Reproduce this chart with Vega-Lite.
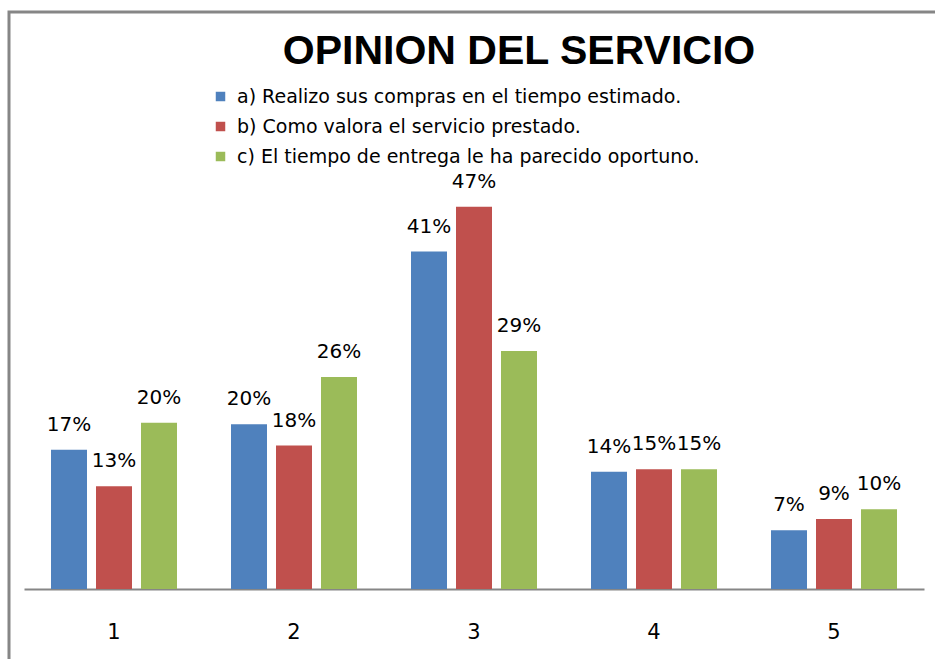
{
  "$schema": "https://vega.github.io/schema/vega-lite/v6.json",
  "width": 936,
  "height": 657,
  "autosize": {"type": "none"},
  "padding": {"left": 9, "top": 12, "right": -10, "bottom": -10},
  "background": "white",
  "config": {"view": {"stroke": "#868686", "strokeWidth": 3}},
  "title": {
    "text": "OPINION DEL SERVICIO",
    "font": "Liberation Sans",
    "fontSize": 41,
    "fontWeight": "bold",
    "color": "black",
    "anchor": "middle",
    "frame": "group",
    "dx": 42,
    "offset": -93,
    "baseline": "alphabetic"
  },
  "data": {
    "values": [
      {"cat": "1", "serie": "a) Realizo sus compras en el tiempo estimado.", "value": 0.171},
      {"cat": "1", "serie": "b) Como valora el servicio prestado.", "value": 0.126},
      {"cat": "1", "serie": "c) El tiempo de entrega le ha parecido oportuno.", "value": 0.204},
      {"cat": "2", "serie": "a) Realizo sus compras en el tiempo estimado.", "value": 0.202},
      {"cat": "2", "serie": "b) Como valora el servicio prestado.", "value": 0.176},
      {"cat": "2", "serie": "c) El tiempo de entrega le ha parecido oportuno.", "value": 0.26},
      {"cat": "3", "serie": "a) Realizo sus compras en el tiempo estimado.", "value": 0.414},
      {"cat": "3", "serie": "b) Como valora el servicio prestado.", "value": 0.469},
      {"cat": "3", "serie": "c) El tiempo de entrega le ha parecido oportuno.", "value": 0.292},
      {"cat": "4", "serie": "a) Realizo sus compras en el tiempo estimado.", "value": 0.144},
      {"cat": "4", "serie": "b) Como valora el servicio prestado.", "value": 0.147},
      {"cat": "4", "serie": "c) El tiempo de entrega le ha parecido oportuno.", "value": 0.147},
      {"cat": "5", "serie": "a) Realizo sus compras en el tiempo estimado.", "value": 0.072},
      {"cat": "5", "serie": "b) Como valora el servicio prestado.", "value": 0.086},
      {"cat": "5", "serie": "c) El tiempo de entrega le ha parecido oportuno.", "value": 0.098}
    ]
  },
  "encoding": {
    "x": {
      "field": "cat",
      "type": "nominal",
      "scale": {"range": [15, 915], "paddingInner": 0.25, "paddingOuter": 0.125},
      "axis": {
        "title": null,
        "labelAngle": 0,
        "ticks": false,
        "grid": false,
        "domainColor": "#868686",
        "domainWidth": 2,
        "labelFont": "DejaVu Sans",
        "labelFontSize": 21,
        "labelColor": "black",
        "labelPadding": 32,
        "offset": -80
      }
    },
    "xOffset": {
      "field": "serie",
      "type": "nominal",
      "scale": {"paddingInner": 0.2, "paddingOuter": 0.1}
    },
    "y": {
      "field": "value",
      "type": "quantitative",
      "scale": {"domain": [0, 0.5], "range": [577, 169.5], "nice": false, "zero": true},
      "axis": null
    }
  },
  "layer": [
    {
      "mark": {"type": "bar"},
      "encoding": {
        "color": {
          "field": "serie",
          "type": "nominal",
          "scale": {"range": ["#4F81BD", "#C0504D", "#9BBB59"]},
          "legend": {
            "orient": "none",
            "legendX": 202,
            "legendY": 75,
            "title": null,
            "symbolType": "square",
            "symbolSize": 90,
            "symbolStrokeWidth": 0,
            "labelFont": "DejaVu Sans",
            "labelFontSize": 19,
            "labelColor": "black",
            "labelLimit": 700,
            "rowPadding": 10,
            "labelOffset": 7
          }
        }
      }
    },
    {
      "mark": {"type": "text", "baseline": "alphabetic", "dy": -19, "font": "DejaVu Sans", "fontSize": 20, "color": "black"},
      "encoding": {
        "text": {"field": "value", "type": "quantitative", "format": ".0%"}
      }
    }
  ]
}
